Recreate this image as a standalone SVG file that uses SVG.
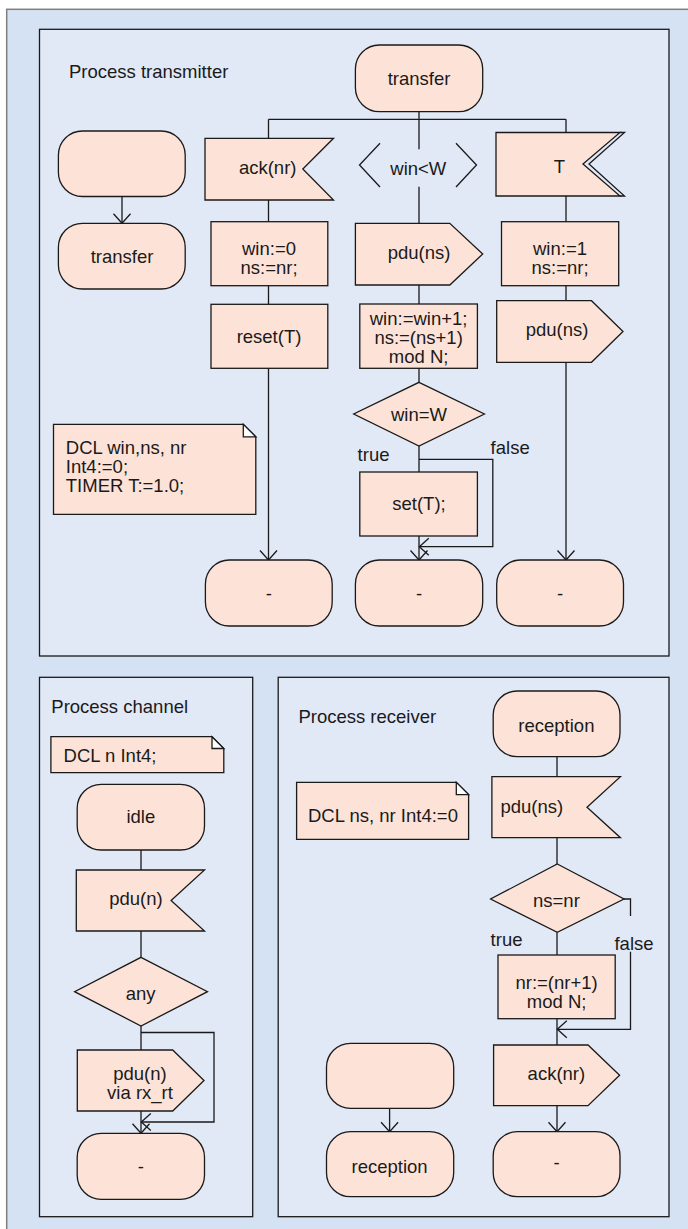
<svg xmlns="http://www.w3.org/2000/svg" width="688" height="1229" viewBox="0 0 688 1229">
  <style>
    .frame { fill: #d5e2f3; stroke: #7f7f7f; stroke-width: 1.5; }
    .panel { fill: #e1e8f6; stroke: #1a1a1a; stroke-width: 1.3; }
    .sym { fill: #fde3d7; stroke: #1a1a1a; stroke-width: 1.3; stroke-linejoin: miter; }
    .ear { fill: #ffffff; stroke: #1a1a1a; stroke-width: 1.3; }
    .line { fill: none; stroke: #1a1a1a; stroke-width: 1.3; }
    .arr { fill: none; stroke: #1a1a1a; stroke-width: 1.3; marker-end: url(#open); }
    text { font-family: "Liberation Sans", Arial, sans-serif; font-size: 18.5px; fill: #1a1a1a; }
    .c { text-anchor: middle; }
  </style>
  <defs>
    <marker id="open" markerUnits="userSpaceOnUse" viewBox="-11 -10 12 20" refX="0" refY="0" markerWidth="12" markerHeight="20" orient="auto">
      <path d="M-9.5,-8.5 L0,0 L-9.5,8.5" fill="none" stroke="#1a1a1a" stroke-width="1.3"/>
    </marker>
  </defs>

  <!-- outer frame -->
  <rect class="frame" x="6.7" y="9.3" width="700" height="1240"/>

  <!-- ===================== Process transmitter ===================== -->
  <g id="panel-transmitter">
    <rect class="panel" x="39.5" y="29.3" width="629.5" height="626.7"/>
    <text x="69" y="78">Process transmitter</text>
  </g>

  <g id="connectors-transmitter">
    <line class="line" x1="419" y1="111.7" x2="419" y2="149.3"/>
    <line class="line" x1="268.5" y1="119.3" x2="566" y2="119.3"/>
    <line class="line" x1="268.5" y1="119.3" x2="268.5" y2="138.3"/>
    <line class="line" x1="566" y1="119.3" x2="566" y2="132.5"/>
    <line class="arr" x1="122" y1="196.5" x2="122" y2="223.3"/>
    <!-- ack branch -->
    <line class="line" x1="268.5" y1="200" x2="268.5" y2="221.7"/>
    <line class="line" x1="268.5" y1="285.7" x2="268.5" y2="304.3"/>
    <line class="arr" x1="268.5" y1="368.3" x2="268.5" y2="560"/>
    <!-- win<W branch -->
    <line class="line" x1="419" y1="186.7" x2="419" y2="223.3"/>
    <line class="line" x1="419" y1="285" x2="419" y2="304"/>
    <line class="line" x1="419" y1="368.3" x2="419" y2="382.3"/>
    <line class="line" x1="419" y1="446" x2="419" y2="472"/>
    <polyline class="arr" points="419,459.3 492.8,459.3 492.8,546.7 419.3,546.7"/>
    <line class="arr" x1="419" y1="536" x2="419" y2="560"/>
    <text x="357.6" y="460.5">true</text>
    <text x="490.6" y="454.2">false</text>
    <!-- T branch -->
    <line class="line" x1="566" y1="196" x2="566" y2="221.7"/>
    <line class="line" x1="566" y1="285.7" x2="566" y2="300.7"/>
    <line class="arr" x1="566" y1="362.3" x2="566" y2="560"/>
  </g>

  <g id="state-transfer">
    <rect class="sym" x="355.4" y="45" width="127.3" height="66.7" rx="24" ry="24"/>
    <text class="c" x="419" y="84.5">transfer</text>
  </g>
  <g id="start-transmitter">
    <rect class="sym" x="58.4" y="131" width="126.8" height="65.5" rx="24" ry="24"/>
  </g>
  <g id="state-transfer-next">
    <rect class="sym" x="58.4" y="223.3" width="126.8" height="65.7" rx="24" ry="24"/>
    <text class="c" x="122" y="262.5">transfer</text>
  </g>
  <g id="input-ack">
    <polygon class="sym" points="205,138.3 333.5,138.3 302.8,169 333.5,200 205,200"/>
    <text class="c" x="267.7" y="173.5">ack(nr)</text>
  </g>
  <g id="guard-win">
    <polyline class="line" points="380,143.3 359.5,165 380,187"/>
    <polyline class="line" points="456,143.3 476.5,165 456,187"/>
    <text class="c" x="418.3" y="174.5">win&lt;W</text>
  </g>
  <g id="input-timer">
    <polygon class="sym" points="496,132.5 620,132.5 583,164 620,196 496,196"/>
    <polyline class="line" points="620,132.5 624.5,132.5 589,164 624.5,196 620,196"/>
    <text class="c" x="559.5" y="173">T</text>
  </g>
  <g id="task-win0">
    <rect class="sym" x="211" y="221.7" width="116.8" height="64"/>
    <text class="c" x="269" y="254.5">win:=0</text>
    <text class="c" x="269" y="274">ns:=nr;</text>
  </g>
  <g id="task-reset">
    <rect class="sym" x="211" y="304.3" width="116.8" height="64"/>
    <text class="c" x="269" y="343.2">reset(T)</text>
  </g>
  <g id="output-pdu-1">
    <polygon class="sym" points="355.4,223.3 449.8,223.3 482.7,254 449.8,285 355.4,285"/>
    <text class="c" x="419" y="259.2">pdu(ns)</text>
  </g>
  <g id="task-wininc">
    <rect class="sym" x="359.8" y="304" width="117.6" height="64.3"/>
    <text class="c" x="418.6" y="324.8">win:=win+1;</text>
    <text class="c" x="418.6" y="344.2">ns:=(ns+1)</text>
    <text class="c" x="418.6" y="363.4">mod N;</text>
  </g>
  <g id="decision-winW">
    <polygon class="sym" points="419,382.3 484.4,414 419,446 353.7,414"/>
    <text class="c" x="419" y="420.5">win=W</text>
  </g>
  <g id="task-set">
    <rect class="sym" x="359.8" y="472" width="117.6" height="64"/>
    <text class="c" x="419" y="509.8">set(T);</text>
  </g>
  <g id="task-win1">
    <rect class="sym" x="501.5" y="221.7" width="117.2" height="64"/>
    <text class="c" x="560" y="254.5">win:=1</text>
    <text class="c" x="560" y="274">ns:=nr;</text>
  </g>
  <g id="output-pdu-2">
    <polygon class="sym" points="496.7,300.7 591.5,300.7 623,331.5 591.5,362.3 496.7,362.3"/>
    <text class="c" x="557" y="335.8">pdu(ns)</text>
  </g>
  <g id="next-ack">
    <rect class="sym" x="205.4" y="560" width="126.8" height="66" rx="24" ry="24"/>
    <text class="c" x="268.8" y="599.5">-</text>
  </g>
  <g id="next-win">
    <rect class="sym" x="355.4" y="560" width="127.3" height="66" rx="24" ry="24"/>
    <text class="c" x="419" y="599.5">-</text>
  </g>
  <g id="next-timer">
    <rect class="sym" x="496.7" y="560" width="126.8" height="66" rx="24" ry="24"/>
    <text class="c" x="560" y="599.5">-</text>
  </g>
  <g id="dcl-transmitter">
    <polygon class="sym" points="53.5,424.3 243.3,424.3 255.8,436.8 255.8,514.3 53.5,514.3"/>
    <polygon class="ear" points="243.3,424.3 243.3,436.8 255.8,436.8"/>
    <text x="65.8" y="454">DCL win,ns, nr</text>
    <text x="65.8" y="473">Int4:=0;</text>
    <text x="65.8" y="492">TIMER T:=1.0;</text>
  </g>

  <!-- ===================== Process channel ===================== -->
  <g id="panel-channel">
    <rect class="panel" x="39.5" y="677.3" width="213.2" height="539.4"/>
    <text x="51.3" y="713.2">Process channel</text>
  </g>

  <g id="connectors-channel">
    <line class="line" x1="141" y1="850" x2="141" y2="870"/>
    <line class="line" x1="141" y1="931" x2="141" y2="957.3"/>
    <line class="line" x1="141" y1="1026" x2="141" y2="1050"/>
    <polyline class="arr" points="141,1032.5 214,1032.5 214,1122 141.3,1122"/>
    <line class="arr" x1="141" y1="1111" x2="141" y2="1133.3"/>
  </g>

  <g id="dcl-channel">
    <polygon class="sym" points="50.9,736.7 212,736.7 223.8,748.5 223.8,772.7 50.9,772.7"/>
    <polygon class="ear" points="212,736.7 212,748.5 223.8,748.5"/>
    <text x="63.6" y="761.5">DCL n Int4;</text>
  </g>
  <g id="state-idle">
    <rect class="sym" x="77.2" y="784.3" width="127.3" height="65.7" rx="24" ry="24"/>
    <text class="c" x="140.8" y="822.5">idle</text>
  </g>
  <g id="input-pdu-n">
    <polygon class="sym" points="76.3,870 204.5,870 171.1,900.5 204.5,931 76.3,931"/>
    <text class="c" x="136" y="904.8">pdu(n)</text>
  </g>
  <g id="decision-any">
    <polygon class="sym" points="141,957.3 207.5,991.7 141,1026 74.6,991.7"/>
    <text class="c" x="140.6" y="999.8">any</text>
  </g>
  <g id="output-pdu-n">
    <polygon class="sym" points="77.3,1050 172.7,1050 204,1080.5 172.7,1111 77.3,1111"/>
    <text class="c" x="140" y="1080">pdu(n)</text>
    <text class="c" x="140" y="1099.3">via rx_rt</text>
  </g>
  <g id="next-channel">
    <rect class="sym" x="77.2" y="1133.3" width="127.3" height="66" rx="24" ry="24"/>
    <text class="c" x="140.8" y="1172.5">-</text>
  </g>

  <!-- ===================== Process receiver ===================== -->
  <g id="panel-receiver">
    <rect class="panel" x="278.2" y="677.3" width="390.8" height="539.4"/>
    <text x="298.4" y="723.2">Process receiver</text>
  </g>

  <g id="connectors-receiver">
    <line class="line" x1="557" y1="756.7" x2="557" y2="776.7"/>
    <line class="line" x1="557" y1="837.7" x2="557" y2="864"/>
    <polyline class="line" points="624,899 630.5,899 630.5,916"/>
    <polyline class="arr" points="630.5,951.7 630.5,1029.3 557.3,1029.3"/>
    <text class="c" x="634" y="949.8">false</text>
    <text x="490.6" y="945.8">true</text>
    <line class="line" x1="557" y1="932.3" x2="557" y2="955"/>
    <line class="line" x1="557" y1="1018.7" x2="557" y2="1045"/>
    <line class="arr" x1="557" y1="1105.7" x2="557" y2="1131.7"/>
    <line class="arr" x1="389.6" y1="1108.3" x2="389.6" y2="1131.7"/>
  </g>

  <g id="state-reception">
    <rect class="sym" x="493.2" y="691" width="126.8" height="65.7" rx="24" ry="24"/>
    <text class="c" x="556.4" y="731.5">reception</text>
  </g>
  <g id="dcl-receiver">
    <polygon class="sym" points="296.6,782.3 456.3,782.3 468.6,794.6 468.6,839.3 296.6,839.3"/>
    <polygon class="ear" points="456.3,782.3 456.3,794.6 468.6,794.6"/>
    <text x="308" y="821.5">DCL ns, nr Int4:=0</text>
  </g>
  <g id="input-pdu-ns">
    <polygon class="sym" points="491.9,776.7 620.4,776.7 587,807.2 620.4,837.7 491.9,837.7"/>
    <text class="c" x="531.8" y="812.5">pdu(ns)</text>
  </g>
  <g id="decision-nsnr">
    <polygon class="sym" points="557.3,864 624,899 557.3,932.3 490.6,899"/>
    <text class="c" x="556.4" y="906.5">ns=nr</text>
  </g>
  <g id="task-nrinc">
    <rect class="sym" x="498" y="955" width="117.2" height="63.7"/>
    <text class="c" x="556.6" y="988.5">nr:=(nr+1)</text>
    <text class="c" x="556.6" y="1008">mod N;</text>
  </g>
  <g id="output-ack">
    <polygon class="sym" points="493.6,1045 588,1045 619.6,1075.3 588,1105.7 493.6,1105.7"/>
    <text class="c" x="556.4" y="1079.8">ack(nr)</text>
  </g>
  <g id="next-receiver">
    <rect class="sym" x="493.2" y="1131.7" width="126.8" height="65" rx="24" ry="24"/>
    <text class="c" x="556.6" y="1168.5">-</text>
  </g>
  <g id="start-receiver">
    <rect class="sym" x="326.5" y="1043.3" width="127.2" height="65" rx="24" ry="24"/>
  </g>
  <g id="state-reception-next">
    <rect class="sym" x="326.5" y="1131.7" width="127.2" height="65" rx="24" ry="24"/>
    <text class="c" x="389.6" y="1173">reception</text>
  </g>
</svg>
